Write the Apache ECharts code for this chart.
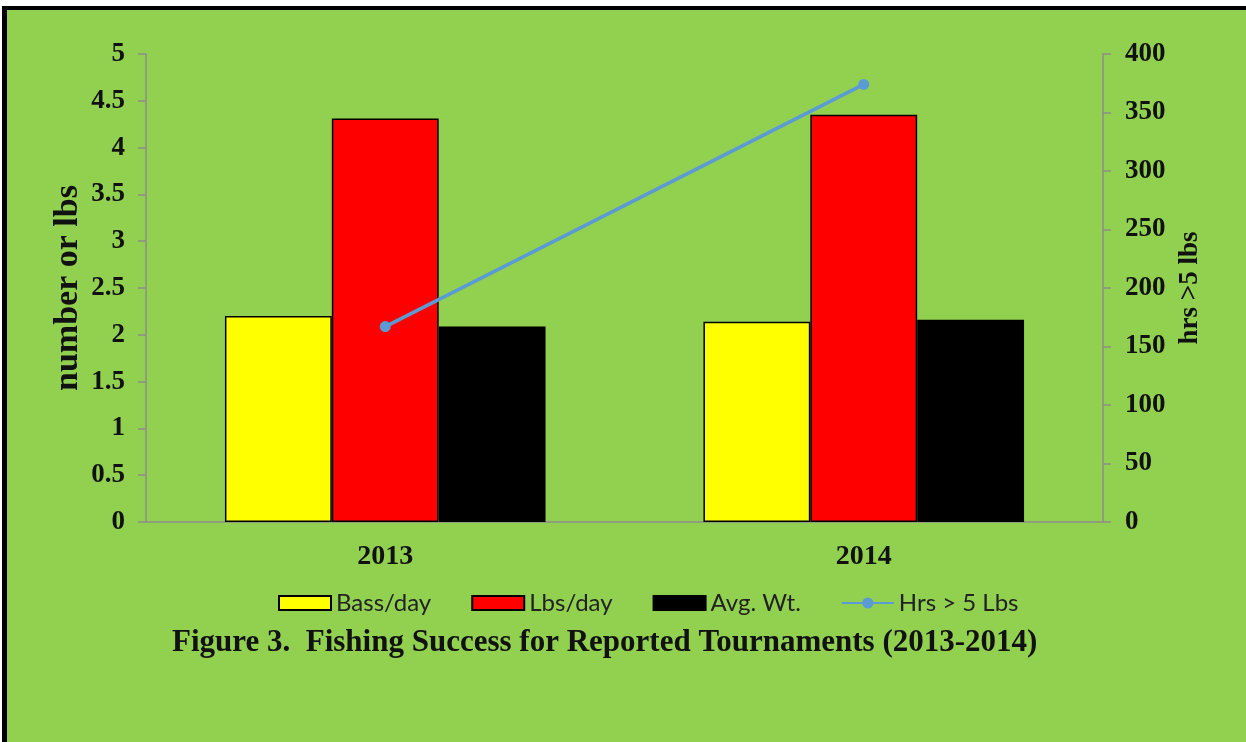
<!DOCTYPE html>
<html>
<head>
<meta charset="utf-8">
<script src="https://cdn.jsdelivr.net/npm/echarts@6/dist/echarts.min.js"></script>
<style>
  html, body { margin: 0; padding: 0; background: #fff; overflow: hidden; }
  #frame {
    position: absolute; left: 2px; top: 6px; width: 1400px; height: 900px;
    border-left: 5px solid #000; border-top: 4px solid #000;
    background: #92D050;
  }
  #main { position: absolute; left: 0; top: 0; width: 1246px; height: 742px; }
</style>
</head>
<body>
<div id="frame"></div>
<div id="main"></div>
<script>
  // 年份
  const years = ['2013', '2014']
  const bassPerDay = [2.2, 2.14]
  const lbsPerDay = [4.31, 4.35]
  const avgWt = [2.09, 2.16]
  const hrsOver5 = [167, 374]
  const leftTicks = [0, 5, 0.5]
  const rightTicks = [0, 400, 50]

  const serif = '"Liberation Serif", "Times New Roman", serif'
  const gridColor = '#8c8c8c'

  let myChart = echarts.init(document.getElementById('main'))
  let barBorder = { borderColor: '#000', borderWidth: 1.5 }
  let option = {
    animation: false,
    title: {
      text: 'Figure 3.  Fishing Success for Reported Tournaments (2013-2014)',
      left: 167,
      top: 622,
      textStyle: { fontFamily: serif, fontWeight: 'bold', fontSize: 31, color: '#111' }
    },
    legend: {
      left: 273,
      top: 586,
      itemWidth: 52,
      itemHeight: 14,
      itemGap: 40,
      textStyle: { fontFamily: 'Lato', fontSize: 24, color: '#222' },
      data: [
        { name: 'Bass/day', icon: 'rect' },
        { name: 'Lbs/day', icon: 'rect' },
        { name: 'Avg. Wt.', icon: 'rect' },
        { name: 'Hrs > 5 Lbs' }
      ]
    },
    grid: { left: 146, right: 143, top: 54, bottom: 220 },
    xAxis: {
      type: 'category',
      data: years,
      axisLine: { lineStyle: { color: gridColor, width: 1.5 } },
      axisTick: { length: 8, lineStyle: { color: gridColor, width: 1.5 } },
      axisLabel: { margin: 21, fontFamily: serif, fontWeight: 'bold', fontSize: 28, color: '#111' }
    },
    yAxis: [
      {
        type: 'value',
        min: leftTicks[0], max: leftTicks[1], interval: leftTicks[2],
        name: 'number or lbs',
        nameLocation: 'middle',
        nameRotate: 90,
        nameGap: 61,
        nameMoveOverlap: false,
        nameTextStyle: { fontFamily: serif, fontWeight: 'bold', fontSize: 34, color: '#111' },
        splitLine: { show: false },
        axisLine: { show: true, lineStyle: { color: gridColor, width: 1.5 } },
        axisTick: { show: true, length: 8, lineStyle: { color: gridColor, width: 1.5 } },
        axisLabel: { margin: 21, fontFamily: serif, fontWeight: 'bold', fontSize: 27, color: '#111' }
      },
      {
        type: 'value',
        min: rightTicks[0], max: rightTicks[1], interval: rightTicks[2],
        name: 'hrs >5 lbs',
        nameLocation: 'middle',
        nameRotate: 90,
        nameGap: 74,
        nameMoveOverlap: false,
        nameTextStyle: { fontFamily: serif, fontWeight: 'bold', fontSize: 27, color: '#111' },
        splitLine: { show: false },
        axisLine: { show: true, lineStyle: { color: gridColor, width: 1.5 } },
        axisTick: { show: true, length: 8, lineStyle: { color: gridColor, width: 1.5 } },
        axisLabel: { margin: 22, fontFamily: serif, fontWeight: 'bold', fontSize: 27, color: '#111' }
      }
    ],
    series: [
      {
        name: 'Bass/day', type: 'bar', data: bassPerDay,
        barGap: 0, barCategoryGap: '33%',
        itemStyle: { color: '#FFFF00', ...barBorder }
      },
      {
        name: 'Lbs/day', type: 'bar', data: lbsPerDay,
        itemStyle: { color: '#FF0000', ...barBorder }
      },
      {
        name: 'Avg. Wt.', type: 'bar', data: avgWt,
        itemStyle: { color: '#000000', ...barBorder }
      },
      {
        name: 'Hrs > 5 Lbs', type: 'line', yAxisIndex: 1, data: hrsOver5,
        symbol: 'circle', symbolSize: 11,
        lineStyle: { color: '#5B9BD5', width: 3.5 },
        itemStyle: { color: '#5B9BD5' },
        z: 5
      }
    ]
  }
  myChart.setOption(option)
</script>
</body>
</html>
